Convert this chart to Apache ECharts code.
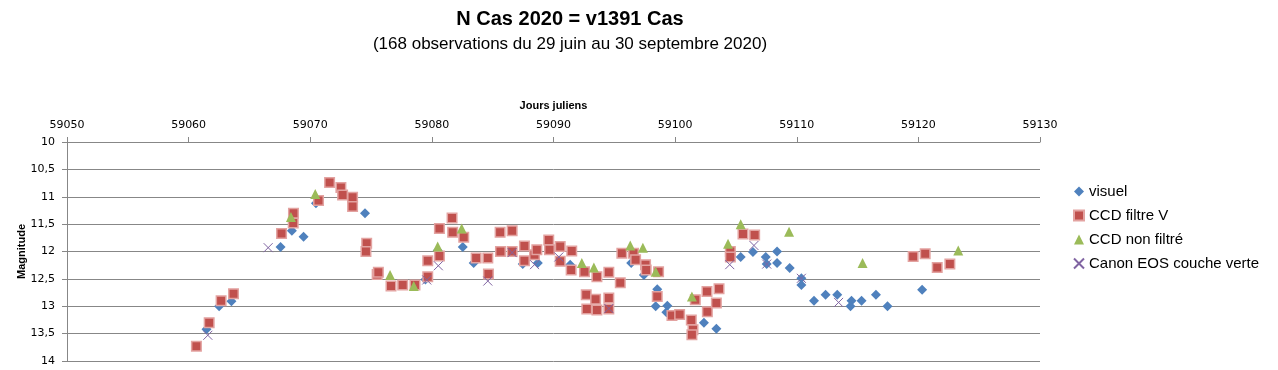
<!DOCTYPE html>
<html>
<head>
<meta charset="utf-8">
<script src="https://cdn.jsdelivr.net/npm/echarts@6/dist/echarts.min.js"></script>
<style>
html,body{margin:0;padding:0;background:#fff;}
#chart{width:1278px;height:370px;}
</style>
</head>
<body>
<div id="chart"></div>
<script>
// ---- Data (Julian day, magnitude) ----
const visuelJD  = [59061.47,59062.51,59063.52,59067.56,59068.49,59069.45,59070.47,59074.50,59079.47,59080.48,59082.54,59083.44,59087.47,59088.71,59091.37,59096.39,59097.43,59098.53,59098.40,59099.36,59099.28,59102.37,59103.39,59105.39,59106.40,59107.45,59107.53,59108.38,59108.38,59109.42,59110.38,59110.38,59111.42,59112.37,59113.33,59114.50,59114.42,59115.33,59116.51,59117.46,59120.31];
const visuelMag = [13.42,13.00,12.91,11.92,11.62,11.73,11.12,11.30,12.51,11.98,11.92,12.21,12.23,12.21,12.24,12.21,12.43,12.69,13.00,12.99,13.11,13.30,13.41,12.10,12.01,12.10,12.23,12.00,12.21,12.30,12.49,12.61,12.90,12.79,12.79,12.90,13.00,12.90,12.79,13.00,12.70];

const ccdVJD  = [59060.64,59061.69,59062.67,59063.69,59067.64,59068.60,59068.62,59070.68,59071.59,59072.52,59072.66,59073.48,59073.48,59074.64,59074.58,59075.50,59075.60,59076.64,59077.60,59078.61,59079.66,59079.66,59080.62,59080.62,59081.66,59081.71,59082.62,59083.64,59084.60,59084.65,59085.61,59085.64,59086.60,59086.60,59087.61,59087.61,59088.44,59088.63,59089.61,59089.67,59090.55,59090.55,59091.50,59091.45,59092.55,59092.69,59092.74,59093.57,59093.46,59093.57,59094.55,59094.55,59094.55,59095.49,59095.62,59096.58,59096.75,59097.57,59097.62,59098.64,59098.53,59099.74,59100.37,59101.66,59101.33,59101.47,59101.38,59102.65,59102.62,59103.39,59103.61,59104.54,59104.54,59105.58,59106.54,59119.57,59120.56,59121.55,59122.59];
const ccdVMag = [13.73,13.30,12.90,12.77,11.67,11.48,11.30,11.07,10.74,10.83,10.97,11.01,11.18,11.85,12.00,12.42,12.38,12.63,12.61,12.61,12.46,12.17,12.08,11.58,11.39,11.65,11.74,12.12,12.12,12.41,11.65,12.00,11.62,12.00,11.90,12.17,12.06,11.97,11.79,11.97,11.91,12.18,11.99,12.34,12.37,12.79,13.05,12.46,12.87,13.07,12.38,12.85,13.05,12.57,12.03,12.03,12.15,12.24,12.34,12.37,12.82,13.17,13.15,12.88,13.25,13.43,13.52,13.10,12.73,12.94,12.68,12.00,12.10,11.68,11.70,12.09,12.04,12.29,12.23];

const ccdNFJD  = [59068.41,59070.41,59076.56,59078.51,59080.48,59082.45,59092.33,59093.32,59096.31,59097.35,59098.40,59101.38,59104.35,59105.39,59109.37,59115.41,59123.28];
const ccdNFMag = [11.37,10.95,12.43,12.63,11.91,11.58,12.21,12.29,11.89,11.93,12.37,12.82,11.86,11.50,11.64,12.21,11.98];

const canonJD  = [59061.58,59066.54,59079.58,59080.53,59084.60,59086.60,59088.44,59090.44,59094.55,59104.49,59106.48,59107.53,59110.38,59113.44];
const canonMag = [13.53,11.93,12.52,12.26,12.54,12.02,12.24,12.10,13.04,12.24,11.89,12.23,12.49,12.93];

const seriesNames = ['visuel','CCD filtre V','CCD non filtré','Canon EOS couche verte'];
const xTicks = {min:59050, max:59130, interval:10};
const yTicks = {min:10, max:14, interval:0.5};

function pairs(xs, ys){ return xs.map((x,i)=>[x, ys[i]]); }

const chart = echarts.init(document.getElementById('chart'), null, {renderer:'canvas'});
const gridColor = '#878787';
const option = {
  animation:false,
  backgroundColor:'#ffffff',
  title:[
    {text:'N Cas 2020 = v1391 Cas', left:565, top:4, textAlign:'center',
     textStyle:{fontFamily:'Liberation Sans', fontSize:20, fontWeight:'bold', color:'#000'}},
    {text:'(168 observations du 29 juin au 30 septembre 2020)', left:565, top:31, textAlign:'center',
     textStyle:{fontFamily:'Liberation Sans', fontSize:17, fontWeight:'normal', color:'#000'}}
  ],
  legend:{
    orient:'vertical', left:1068, top:179, itemWidth:10, itemHeight:10, itemGap:9,
    textStyle:{fontFamily:'Liberation Sans', fontSize:15, color:'#000'},
    data:seriesNames
  },
  grid:{left:67, right:238, top:142, bottom:9, containLabel:false},
  xAxis:{
    type:'value', position:'top', min:xTicks.min, max:xTicks.max, interval:xTicks.interval,
    name:'Jours juliens', nameLocation:'middle', nameGap:31, nameMoveOverlap:false,
    nameTextStyle:{fontFamily:'Liberation Sans', fontSize:11, fontWeight:'bold', color:'#000'},
    axisLine:{show:true, lineStyle:{color:gridColor, width:1}},
    axisTick:{show:true, length:5, lineStyle:{color:gridColor}},
    axisLabel:{fontFamily:'DejaVu Sans', fontSize:11, color:'#000', margin:11,
      formatter:v=>String(v)},
    splitLine:{show:false}
  },
  yAxis:{
    type:'value', inverse:true, min:yTicks.min, max:yTicks.max, interval:yTicks.interval,
    name:'Magnitude', nameLocation:'middle', nameGap:40, nameMoveOverlap:false,
    nameTextStyle:{fontFamily:'Liberation Sans', fontSize:11, fontWeight:'bold', color:'#000'},
    axisLine:{show:true, lineStyle:{color:gridColor, width:1}},
    axisTick:{show:true, length:5, lineStyle:{color:gridColor}},
    axisLabel:{fontFamily:'DejaVu Sans', fontSize:11, color:'#000', margin:12,
      formatter:v=>String(v).replace('.',',')},
    splitLine:{show:true, lineStyle:{color:gridColor, width:1}}
  },
  series:[
    {name:seriesNames[0], type:'scatter', data:pairs(visuelJD, visuelMag),
     symbol:'diamond', symbolSize:10, itemStyle:{color:'#4F81BD', opacity:1}},
    {name:seriesNames[1], type:'scatter', data:pairs(ccdVJD, ccdVMag),
     symbol:'rect', symbolSize:9.5, itemStyle:{color:'#C0504D', borderColor:'#E3A3A1', borderWidth:1.5, opacity:1}},
    {name:seriesNames[2], type:'scatter', data:pairs(ccdNFJD, ccdNFMag),
     symbol:'triangle', symbolSize:10, itemStyle:{color:'#9BBB59', opacity:1}},
    {name:seriesNames[3], type:'scatter', data:pairs(canonJD, canonMag),
     symbol:'path://M0,0L10,10M10,0L0,10', symbolSize:9,
     itemStyle:{color:'rgba(0,0,0,0)', borderColor:'#8064A2', borderWidth:1, opacity:1}}
  ]
};
chart.setOption(option);
</script>
</body>
</html>
